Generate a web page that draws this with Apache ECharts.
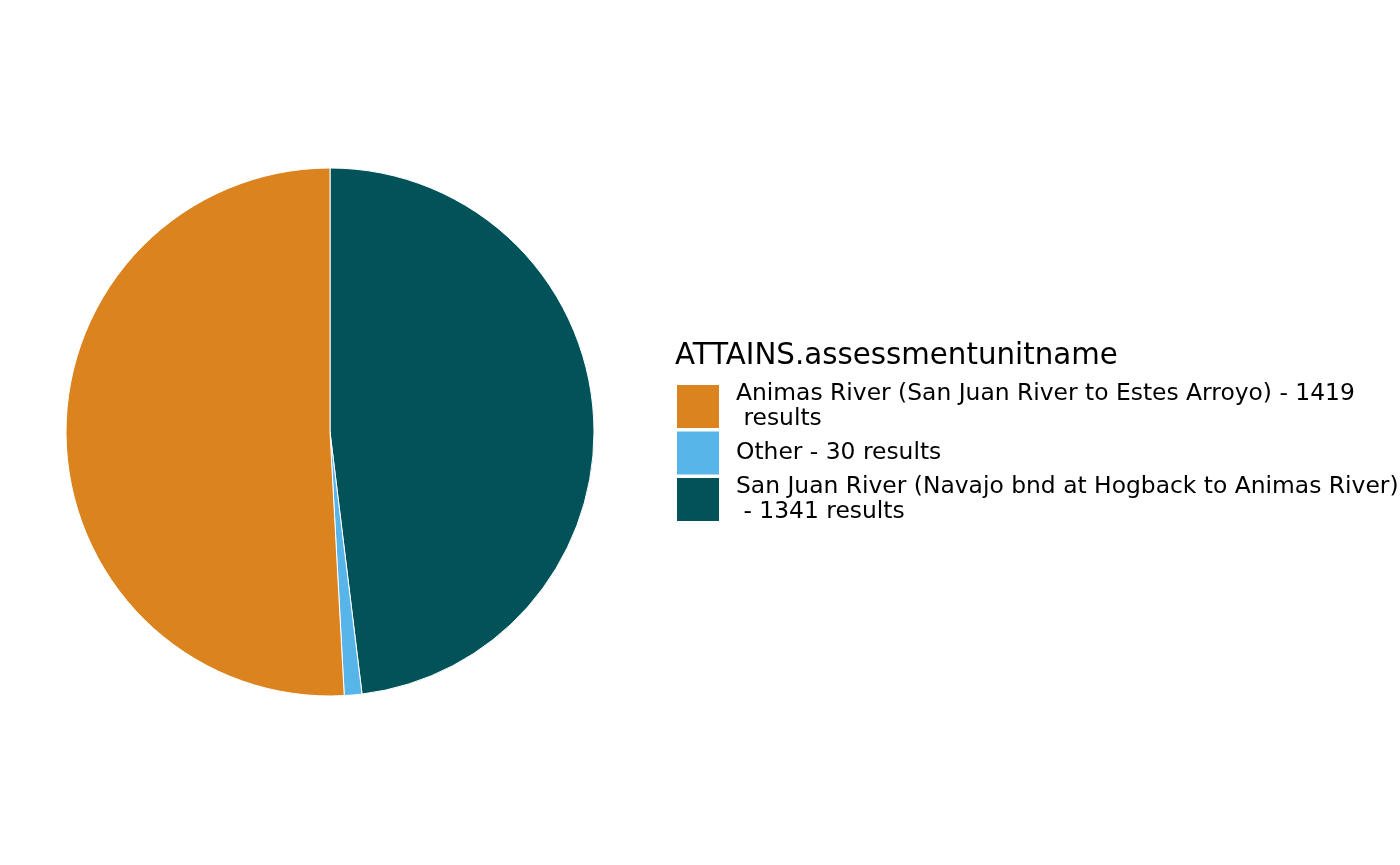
<!DOCTYPE html>
<html>
<head>
<meta charset="utf-8">
<script src="https://cdn.jsdelivr.net/npm/echarts@6/dist/echarts.min.js"></script>
<style>
  html, body { margin: 0; padding: 0; background: #fff; }
  #chart { width: 1400px; height: 865px; }
</style>
</head>
<body>
<div id="chart"></div>
<script>
// slice order as drawn clockwise from 12 o'clock
const units = [
  'San Juan River (Navajo bnd at Hogback to Animas River)',
  'Other',
  'Animas River (San Juan River to Estes Arroyo)'
]
const counts = [1341, 30, 1419]
const colors = ['#02525a', '#58b5ea', '#db841f']
// legend order and wrapped labels
const legendOrder = [2, 1, 0]
const legendLabels = {
  'Animas River (San Juan River to Estes Arroyo)': 'Animas River (San Juan River to Estes Arroyo) - 1419\n results',
  'Other': 'Other - 30 results',
  'San Juan River (Navajo bnd at Hogback to Animas River)': 'San Juan River (Navajo bnd at Hogback to Animas River)\n - 1341 results'
}

let chart = echarts.init(document.getElementById('chart'))

chart.setOption({
  animation: false,
  textStyle: { fontFamily: 'DejaVu Sans' },
  title: {
    text: 'ATTAINS.assessmentunitname',
    left: 670,
    top: 337,
    textStyle: { fontFamily: 'DejaVu Sans', fontSize: 29.3, fontWeight: 'normal', color: '#000' }
  },
  legend: {
    orient: 'vertical',
    left: 672,
    top: 372.5,
    icon: 'rect',
    itemWidth: 42,
    itemHeight: 43,
    itemGap: -4,
    selectedMode: false,
    itemStyle: { borderWidth: 0 },
    data: legendOrder.map(i => units[i]),
    formatter: name => legendLabels[name],
    textStyle: {
      fontFamily: 'DejaVu Sans',
      fontSize: 23.4,
      lineHeight: 24.5,
      color: '#000',
      padding: [9, 0, 0, 12]
    }
  },
  series: [{
    type: 'pie',
    center: [330, 432],
    radius: 264,
    startAngle: 90,
    clockwise: true,
    label: { show: false },
    labelLine: { show: false },
    emphasis: { disabled: true },
    itemStyle: { borderColor: '#fff', borderWidth: 1 },
    data: units.map((u, i) => ({ name: u, value: counts[i], itemStyle: { color: colors[i] } }))
  }]
})
</script>
</body>
</html>
